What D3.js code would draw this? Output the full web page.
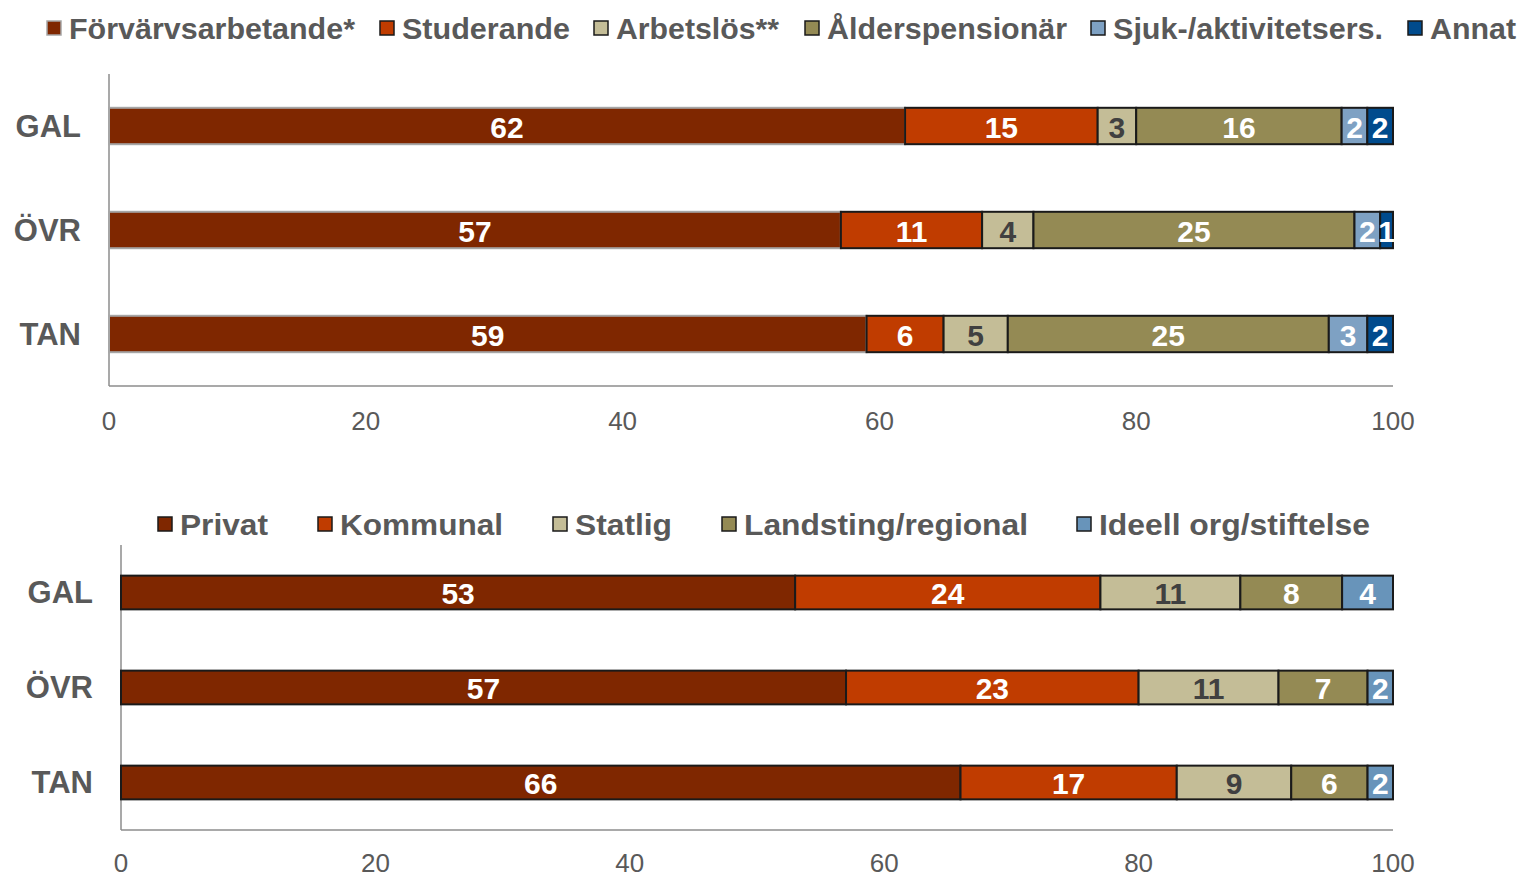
<!DOCTYPE html>
<html>
<head>
<meta charset="utf-8">
<script src="https://cdn.jsdelivr.net/npm/d3@7"></script>
<style>
	body { margin: 0; background: #fff; }
	svg { display: block; font-family: 'Liberation Sans', Arial, sans-serif; }
</style>
</head>
<body>
<svg width="1521" height="878"></svg>
<script>
const groups = ['GAL', 'ÖVR', 'TAN']
const ticks = [0, 20, 40, 60, 80, 100]

// top chart: sysselsättning
const topSeries = ['Förvärvsarbetande*', 'Studerande', 'Arbetslös**', 'Ålderspensionär', 'Sjuk-/aktivitetsers.', 'Annat']
const forvarvs = [62, 57, 59]
const studerande = [15, 11, 6]
const arbetslos = [3, 4, 5]
const alderspens = [16, 25, 25]
const sjuk = [2, 2, 3]
const annat = [2, 1, 2]

// bottom chart: sektor
const botSeries = ['Privat', 'Kommunal', 'Statlig', 'Landsting/regional', 'Ideell org/stiftelse']
const privat = [53, 57, 66]
const kommunal = [24, 23, 17]
const statlig = [11, 11, 9]
const landsting = [8, 7, 6]
const ideell = [4, 2, 2]

const svg = d3.select('svg')
const grey = '#595959'

function drawChart(opt) {
	const rows = groups.map((g, i) => {
		const r = { group: g }
		opt.series.forEach((s, j) => r[s] = opt.values[j][i])
		return r
	})
	const stacked = d3.stack().keys(opt.series)(rows)

	const x = d3.scaleLinear().domain([0, 100]).range([opt.left, opt.right])
	const y = d3.scaleBand().domain(groups).range([opt.top, opt.bottom]).paddingInner(opt.pad).paddingOuter(opt.pad / 2)

	const g = svg.append('g')

	// axes lines
	g.append('line')
		.attr('x1', opt.left).attr('x2', opt.left)
		.attr('y1', opt.top).attr('y2', opt.bottom)
		.attr('stroke', '#8c8c8c').attr('stroke-width', 1.5)
	g.append('line')
		.attr('x1', opt.left).attr('x2', opt.right)
		.attr('y1', opt.bottom).attr('y2', opt.bottom)
		.attr('stroke', '#8c8c8c').attr('stroke-width', 1.5)

	g.selectAll('.tick')
		.data(ticks)
		.enter()
		.append('text')
		.attr('x', d => x(d))
		.attr('y', opt.bottom + opt.tickDy)
		.attr('dy', '.35em')
		.attr('text-anchor', 'middle')
		.attr('font-size', 26)
		.attr('fill', grey)
		.text(d => d)

	g.selectAll('.cat')
		.data(groups)
		.enter()
		.append('text')
		.attr('x', opt.catX)
		.attr('y', d => y(d) + y.bandwidth() / 2)
		.attr('dy', '.35em')
		.attr('text-anchor', 'end')
		.attr('font-size', 31)
		.attr('font-weight', 'bold')
		.attr('fill', grey)
		.text(d => d)

	const layer = g.selectAll('.layer')
		.data(stacked)
		.enter()
		.append('g')

	layer.selectAll('rect')
		.data(d => d.map(v => ({ key: d.key, idx: d.index, v })))
		.enter()
		.append('rect')
		.attr('x', d => x(d.v[0]))
		.attr('y', d => y(d.v.data.group))
		.attr('width', d => x(d.v[1]) - x(d.v[0]))
		.attr('height', y.bandwidth())
		.attr('fill', d => opt.colors[d.idx])
		.attr('stroke', d => (opt.firstGrey && d.idx === 0) ? '#a6a6a6' : '#1a1a1a')
		.attr('stroke-width', 2)

	layer.selectAll('text')
		.data(d => d.map(v => ({ key: d.key, idx: d.index, v })))
		.enter()
		.append('text')
		.attr('x', d => (x(d.v[0]) + x(d.v[1])) / 2)
		.attr('y', d => y(d.v.data.group) + y.bandwidth() / 2 + 1)
		.attr('dy', '.35em')
		.attr('text-anchor', 'middle')
		.attr('font-size', 30)
		.attr('font-weight', 'bold')
		.attr('fill', d => d.idx === 2 ? '#404040' : '#fff')
		.text(d => d.v[1] - d.v[0])

	// legend
	const leg = g.selectAll('.leg')
		.data(opt.series)
		.enter()
		.append('g')
		.attr('transform', (d, i) => 'translate(' + opt.legX[i] + ',' + opt.legY + ')')
	leg.append('rect')
		.attr('x', 0).attr('y', -7)
		.attr('width', 14).attr('height', 14)
		.attr('fill', (d, i) => opt.colors[i])
		.attr('stroke', (d, i) => (opt.firstGrey && i === 0) ? '#a6a6a6' : '#1a1a1a')
		.attr('stroke-width', 1.5)
	leg.append('text')
		.attr('x', 22)
		.attr('dy', '.35em')
		.attr('font-size', 30)
		.attr('font-weight', 'bold')
		.attr('fill', grey)
		.attr('textLength', (d, i) => opt.legW[i])
		.attr('lengthAdjust', 'spacingAndGlyphs')
		.text(d => d)
}

drawChart({
	series: topSeries,
	values: [forvarvs, studerande, arbetslos, alderspens, sjuk, annat],
	colors: ['#7f2700', '#c03c00', '#c4bd97', '#948a54', '#7ea1c3', '#004b8d'],
	firstGrey: true,
	left: 109, right: 1393, top: 74, bottom: 386,
	pad: 0.65,
	catX: 81,
	tickDy: 35,
	legX: [47, 380, 594, 805, 1091, 1408],
	legW: [286, 168, 163, 240, 270, 86],
	legY: 28
})

drawChart({
	series: botSeries,
	values: [privat, kommunal, statlig, landsting, ideell],
	colors: ['#7f2700', '#c03c00', '#c4bd97', '#948a54', '#6894ba'],
	firstGrey: false,
	left: 121, right: 1393, top: 545, bottom: 830,
	pad: 0.645,
	catX: 93,
	tickDy: 33,
	legX: [158, 318, 553, 722, 1077],
	legW: [88, 163, 97, 284, 271],
	legY: 524
})
</script>
</body>
</html>
